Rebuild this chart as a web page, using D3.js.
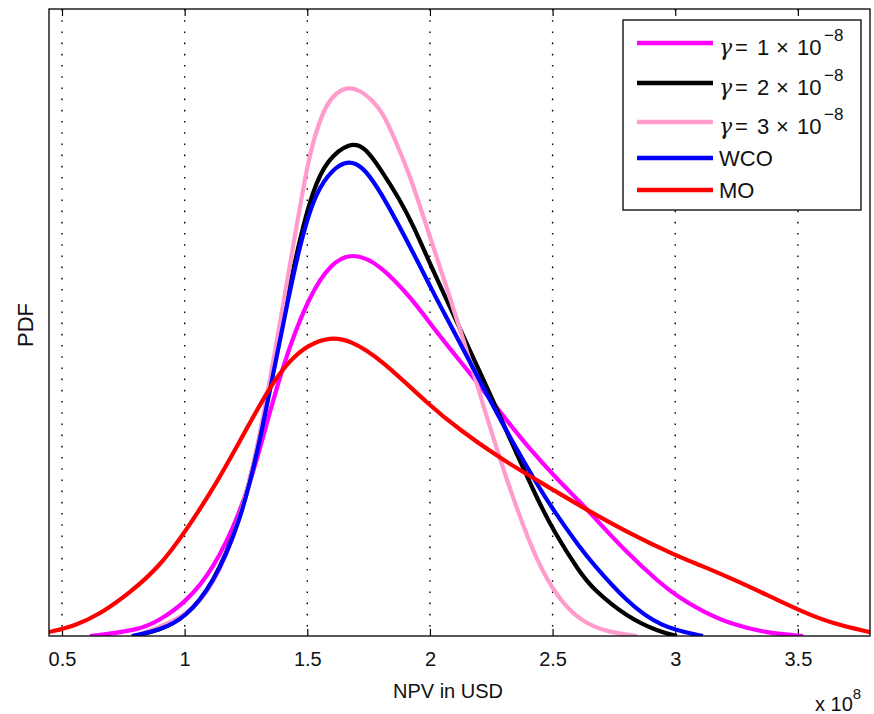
<!DOCTYPE html>
<html><head><meta charset="utf-8">
<script src="https://cdn.jsdelivr.net/npm/d3@7/dist/d3.min.js"></script>
<style>
body{margin:0;background:#fff;}
svg{display:block;font-family:"Liberation Sans",Arial,sans-serif;}
</style></head>
<body><svg id="c" width="874" height="714"></svg>
<script>
// ---- data (NPV in 1e8 USD, PDF) ----
const xTicks = [0.5, 1, 1.5, 2, 2.5, 3, 3.5];
const xTickLabels = ["0.5","1","1.5","2","2.5","3","3.5"];
const seriesNames = ["1", "2", "3", "WCO", "MO"];   // γ values (× 10^-8) or model names
const isGamma = [true, true, true, false, false];

const gamma1 = [[0.614,0],[0.818,0.015],[0.900,0.041],[1.001,0.084],[1.116,0.168],[1.226,0.314],[1.295,0.449],[1.360,0.602],[1.429,0.743],[1.511,0.870],[1.593,0.949],[1.682,0.980],[1.796,0.949],[1.931,0.857],[2.008,0.791],[2.069,0.743],[2.192,0.648],[2.273,0.582],[2.408,0.475],[2.530,0.393],[2.612,0.342],[2.665,0.306],[2.803,0.212],[2.938,0.135],[3.007,0.102],[3.101,0.066],[3.235,0.028],[3.374,0.008],[3.521,0]];
const gamma2 = [[0.798,0],[0.900,0.015],[1.001,0.046],[1.116,0.130],[1.226,0.296],[1.295,0.470],[1.360,0.674],[1.421,0.870],[1.470,1.016],[1.523,1.138],[1.580,1.215],[1.674,1.261],[1.735,1.248],[1.796,1.194],[1.878,1.113],[1.931,1.049],[2.008,0.939],[2.110,0.801],[2.192,0.689],[2.245,0.618],[2.339,0.485],[2.436,0.352],[2.502,0.270],[2.612,0.161],[2.665,0.120],[2.803,0.048],[2.938,0.010],[3.007,0]];
const gamma3 = [[0.798,0],[1.001,0.046],[1.116,0.122],[1.226,0.296],[1.295,0.475],[1.348,0.653],[1.401,0.845],[1.450,1.023],[1.503,1.215],[1.544,1.304],[1.580,1.358],[1.621,1.388],[1.666,1.401],[1.715,1.393],[1.764,1.368],[1.809,1.335],[1.858,1.266],[1.919,1.176],[2.008,1.003],[2.082,0.863],[2.143,0.743],[2.192,0.641],[2.273,0.475],[2.355,0.322],[2.436,0.191],[2.518,0.100],[2.612,0.038],[2.722,0.010],[2.844,0]];
const wco = [[0.785,0],[0.900,0.015],[1.001,0.046],[1.116,0.130],[1.226,0.291],[1.295,0.462],[1.360,0.666],[1.421,0.857],[1.470,0.998],[1.523,1.113],[1.580,1.176],[1.654,1.215],[1.723,1.202],[1.796,1.138],[1.931,0.980],[2.008,0.883],[2.069,0.811],[2.163,0.699],[2.245,0.602],[2.339,0.492],[2.436,0.388],[2.502,0.322],[2.612,0.225],[2.665,0.184],[2.803,0.087],[2.938,0.023],[3.113,0]];
const mo = [[0.447,0.010],[0.553,0.026],[0.655,0.056],[0.777,0.110],[0.900,0.179],[1.001,0.265],[1.116,0.375],[1.226,0.498],[1.348,0.638],[1.429,0.704],[1.503,0.743],[1.593,0.763],[1.674,0.755],[1.796,0.709],[2.000,0.587],[2.122,0.526],[2.273,0.459],[2.408,0.408],[2.502,0.373],[2.612,0.332],[2.803,0.265],[3.007,0.204],[3.101,0.181],[3.235,0.145],[3.374,0.105],[3.509,0.064],[3.643,0.031],[3.794,0.010]];

const seriesData = [gamma1, gamma2, gamma3, wco, mo];
const colors = ["#ff00ff", "#000000", "#ff9ccc", "#0000ff", "#ff0000"];

// ---- layout ----
const L = 49, R = 870, T = 9, B = 636;
const svg = d3.select("#c");
const x = d3.scaleLinear().domain([0.447, 3.794]).range([L, R]);
const y = d3.scaleLinear().domain([0, 1.6]).range([B, T]);

// grid
svg.append("g").selectAll("line").data(xTicks).join("line")
  .attr("x1", d => x(d)).attr("x2", d => x(d)).attr("y1", T).attr("y2", B)
  .attr("stroke", "#000").attr("stroke-width", 1.4).attr("stroke-dasharray", "1.6,9.6");

// axes with inward ticks
const axB = svg.append("g").attr("transform", `translate(0,${B})`)
  .call(d3.axisBottom(x).tickValues(xTicks).tickFormat((d,i)=>xTickLabels[i]).tickSize(-7).tickPadding(16));
const axT = svg.append("g").attr("transform", `translate(0,${T})`)
  .call(d3.axisTop(x).tickValues(xTicks).tickFormat("").tickSize(-7));
[axB, axT].forEach(g => {
  g.select(".domain").remove();
  g.selectAll("line").attr("stroke", "#000").attr("stroke-width", 1.2);
});
axB.selectAll("text").attr("font-size", 20).attr("fill", "#111")
  .attr("font-family", "'Liberation Sans',Arial,sans-serif");

// curves
svg.append("clipPath").attr("id", "pc").append("rect")
  .attr("x", L).attr("y", T).attr("width", R - L).attr("height", B - T);
const line = d3.line().x(d => x(d[0])).y(d => y(d[1])).curve(d3.curveBasis);
svg.append("g").attr("clip-path", "url(#pc)").selectAll("path").data(seriesData).join("path")
  .attr("d", line).attr("fill", "none")
  .attr("stroke", (d,i) => colors[i]).attr("stroke-width", 4.2)
  .attr("stroke-linejoin", "round");

// frame
svg.append("rect").attr("x", L).attr("y", T).attr("width", R - L).attr("height", B - T)
  .attr("fill", "none").attr("stroke", "#000").attr("stroke-width", 1.3);

// labels
svg.append("text").attr("x", 448).attr("y", 698).attr("text-anchor", "middle")
  .attr("font-size", 20).attr("fill", "#111").text("NPV in USD");
svg.append("text").attr("transform", `translate(33,325) rotate(-90)`).attr("text-anchor", "middle")
  .attr("font-size", 22).attr("fill", "#111").text("PDF");
const xm = svg.append("text").attr("x", 815).attr("y", 711).attr("font-size", 20).attr("fill", "#111");
xm.append("tspan").text("x 10");
xm.append("tspan").attr("dy", -12).attr("font-size", 15).text("8");

// legend
const lg = svg.append("g");
lg.append("rect").attr("x", 623).attr("y", 20).attr("width", 238).attr("height", 190)
  .attr("fill", "#fff").attr("stroke", "#000").attr("stroke-width", 1.3);
const rowY = [43, 83, 122, 158, 190];
seriesNames.forEach((n, i) => {
  lg.append("line").attr("x1", 637).attr("x2", 713).attr("y1", rowY[i]).attr("y2", rowY[i])
    .attr("stroke", colors[i]).attr("stroke-width", 4.6);
  const by = rowY[i] + (isGamma[i] ? 12 : 8);
  const t = lg.append("text").attr("y", by).attr("font-size", 22).attr("fill", "#111");
  if (isGamma[i]) {
    t.append("tspan").attr("x", 719).attr("font-family", "'DejaVu Serif',serif").attr("font-style", "italic").text("γ");
    t.append("tspan").attr("x", 735).text("=");
    t.append("tspan").attr("x", 757).text(n);
    t.append("tspan").attr("x", 776).text("×");
    t.append("tspan").attr("x", 797).text("10");
    t.append("tspan").attr("x", 824).attr("dy", -14).attr("font-size", 17).text("−8");
  } else {
    t.append("tspan").attr("x", 719).text(n);
  }
});
</script></body></html>
